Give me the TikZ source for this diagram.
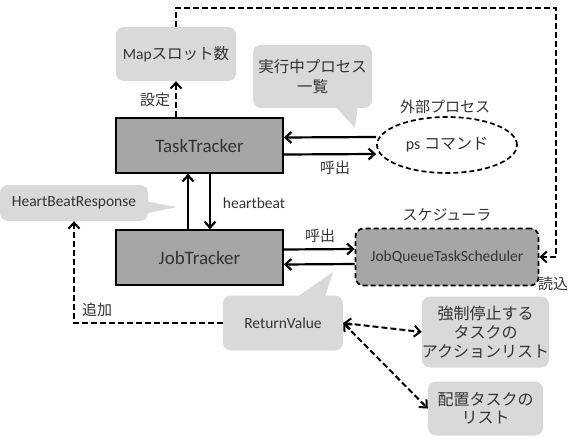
\documentclass[tikz,border=0pt]{standalone}
\usepackage{fontspec}
\setmainfont{Carlito}
\newfontfamily\jp{Noto Sans CJK JP}
\usetikzlibrary{arrows.meta,shapes.geometric}

\definecolor{lightbox}{HTML}{D9D9D9}
\definecolor{darkbox}{HTML}{A6A6A6}
\definecolor{textgray}{HTML}{333333}

\tikzset{
    pale/.style={fill=lightbox, rounded corners=8pt, text=textgray, font=\fontsize{15.5}{19}\selectfont, align=center, inner sep=0pt},
    tracker/.style={draw, line width=1.6pt, fill=darkbox, text=textgray, font=\fontsize{19}{22}\selectfont, minimum width=167pt, minimum height=55pt, inner sep=0pt},
    link/.style={->, line width=2.2pt},
    dlink/.style={->, line width=2pt, dash pattern=on 6pt off 3pt},
    tag/.style={text=textgray, font=\fontsize{15}{18}\selectfont\jp, inner sep=0pt}
}

\begin{document}
\begin{tikzpicture}[x=1pt, y=-1pt, >={Straight Barb[length=6pt,width=11pt]}]
        \useasboundingbox (0,0) rectangle (580,441);

        \node[pale, minimum width=120pt, minimum height=54pt] (slots) at (176,54) {Map{\jp スロット数}};
        \node[tracker] (tt) at (199.5,145.5) {TaskTracker};
        \node[tracker] (jt) at (199.5,257.5) {JobTracker};

        \fill[lightbox] (333,104) -- (355,128) -- (358,104) -- cycle;
        \node[pale, minimum width=119pt, minimum height=63pt, font=\fontsize{15.5}{20}\selectfont\jp] (plist) at (312.5,76.5) {実行中プロセス\\一覧};

        \node[tag] (extlabel) at (445,107) {外部プロセス};
        \node[draw, ellipse, line width=1.7pt, dash pattern=on 5pt off 3pt, minimum width=140pt, minimum height=56pt, text=textgray, font=\fontsize{16}{19}\selectfont] (ps) at (447,145) {ps {\jp コマンド}};

        \fill[lightbox] (144,201) -- (177,207) -- (144,214) -- cycle;
        \node[pale, minimum width=148pt, minimum height=36pt] (hbr) at (74,203) {HeartBeatResponse};

        \node[tag] (schedlabel) at (447,215) {スケジューラ};
        \node[draw, line width=1.7pt, dash pattern=on 5pt off 3pt, rounded corners=8pt, fill=darkbox, minimum width=183pt, minimum height=57pt, text=textgray, font=\fontsize{15.5}{19}\selectfont] (sched) at (447,257) {JobQueueTaskScheduler};
        \node[tag] (readlabel) at (553,284) {読込};

        \fill[lightbox] (293,300) -- (333,272) -- (324,300) -- cycle;
        \node[pale, minimum width=120pt, minimum height=55pt] (rv) at (283,323) {ReturnValue};

        \node[pale, minimum width=115pt, minimum height=71pt, font=\fontsize{16}{19}\selectfont\jp] (kill) at (485.5,332) {強制停止する\\タスクの\\アクションリスト};
        \node[pale, minimum width=115pt, minimum height=54pt, font=\fontsize{16}{18}\selectfont\jp] (place) at (485.5,408.5) {配置タスクの\\リスト};

        % TaskTracker side
        \draw[dlink] (slots.south |- tt.north) -- (slots.south);
        \node[tag] (setlabel) at (155,100) {設定};
        \coordinate (corner) at (556,8);
        \draw[dlink] (slots.north) |- (corner) |- (sched.east);

        \draw[link] ([yshift=8pt]ps.west) -- ([yshift=8pt]tt.east);
        \draw[link] ([yshift=-9pt]tt.east) -- ([yshift=-9pt]ps.west);
        \node[tag] (calltt) at (335,168) {呼出};

        \draw[link] ([xshift=-11.5pt]jt.north) -- ([xshift=-11.5pt]tt.south);
        \draw[link] ([xshift=10.5pt]tt.south) -- ([xshift=10.5pt]jt.north);
        \node[tag, font=\fontsize{15.5}{18}\selectfont] (hblabel) at (254,203) {heartbeat};

        % JobTracker side
        \draw[link] ([yshift=8pt]jt.east) -- ([yshift=8pt]sched.west);
        \draw[link] ([yshift=-7pt]sched.west) -- ([yshift=-7pt]jt.east);
        \node[tag] (calljt) at (320,236) {呼出};

        \draw[dlink] (rv.west) -| (hbr.south);
        \node[tag] (addlabel) at (97,310) {追加};

        \draw[dlink, <->] (rv.east) -- (kill.west);
        \draw[dlink, <->] (rv.east) -- (place.west);

    \end{tikzpicture}
\end{document}
